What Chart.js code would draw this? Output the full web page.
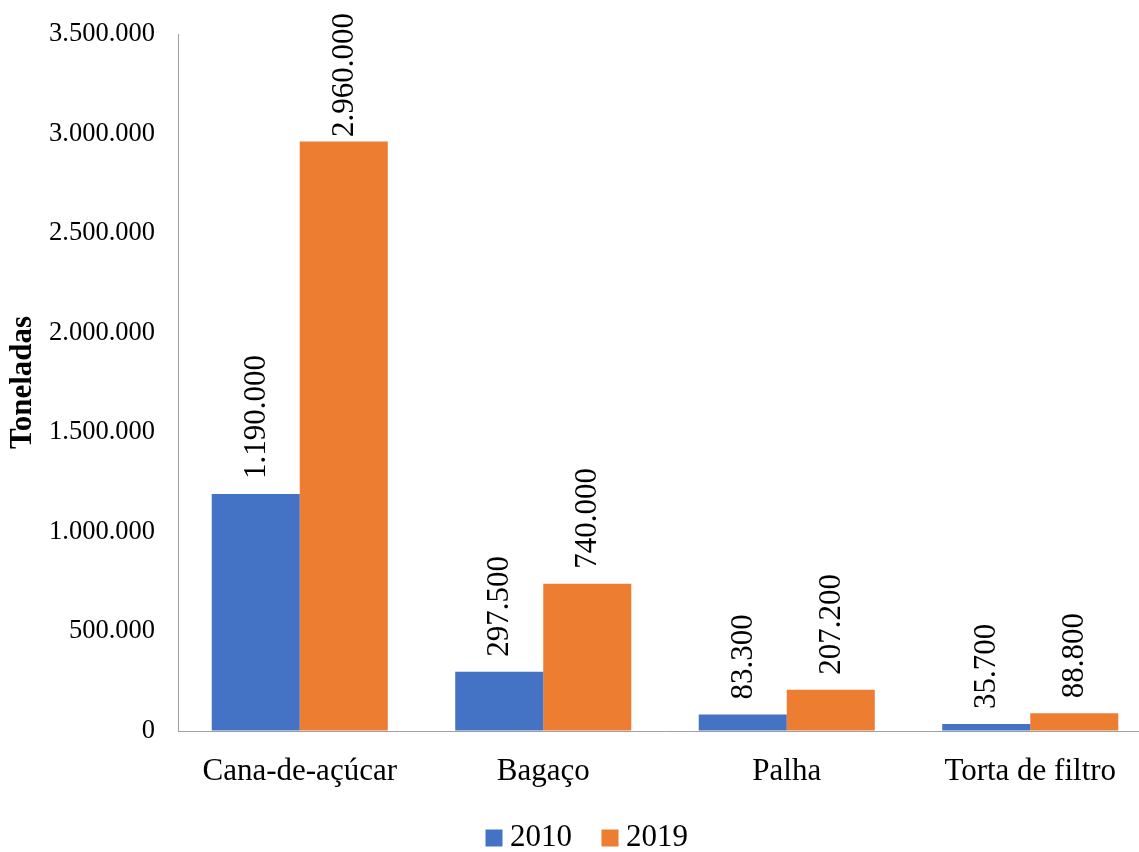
<!DOCTYPE html>
<html>
<head>
<meta charset="utf-8">
<script src="https://cdn.jsdelivr.net/npm/chart.js@4/dist/chart.umd.min.js"></script>
<style>
html,body{margin:0;padding:0;background:#fff;overflow:hidden}
#wrap{width:1152px;height:852px;position:relative}
</style>
</head>
<body>
<div id="wrap"><canvas id="c"></canvas></div>
<script>
const categories = ['Cana-de-açúcar', 'Bagaço', 'Palha', 'Torta de filtro'];
const seriesNames = ['2010', '2019'];
const values2010 = [1190000, 297500, 83300, 35700];
const values2019 = [2960000, 740000, 207200, 88800];
const yMin = 0;
const yMax = 3500000;
const yStep = 500000;
const yTitle = 'Toneladas';

const fmt = v => String(Math.round(v)).replace(/\B(?=(\d{3})+(?!\d))/g, '.');
const SERIF = '"Liberation Serif", "Times New Roman", serif';

const dataLabels = {
  id: 'dataLabels',
  afterDatasetsDraw(chart) {
    const ctx = chart.ctx;
    ctx.save();
    ctx.font = '31px ' + SERIF;
    ctx.fillStyle = '#000';
    ctx.textAlign = 'left';
    ctx.textBaseline = 'middle';
    chart.data.datasets.forEach((ds, di) => {
      const meta = chart.getDatasetMeta(di);
      meta.data.forEach((el, i) => {
        const txt = fmt(ds.data[i]);
        const w = ctx.measureText(txt).width;
        let start = el.y - 15;
        const minTop = 13;
        if (start - w < minTop) start = minTop + w;
        ctx.save();
        ctx.translate(el.x + 1, start);
        ctx.rotate(-Math.PI / 2);
        ctx.fillText(txt, 0, 0);
        ctx.restore();
      });
    });
    ctx.restore();
  }
};

const legendShift = {
  id: 'legendShift',
  afterLayout(chart) {
    const l = chart.legend;
    if (!l) return;
    l.left += 29.5;
    l.top -= 11;
    l.bottom -= 11;
  }
};

new Chart(document.getElementById('c'), {
  type: 'bar',
  data: {
    labels: categories,
    datasets: [
      { label: seriesNames[0], data: values2010, backgroundColor: '#4472C4', borderWidth: 0 },
      { label: seriesNames[1], data: values2019, backgroundColor: '#ED7D31', borderWidth: 0 }
    ]
  },
  options: {
    responsive: true,
    maintainAspectRatio: false,
    animation: false,
    layout: { padding: { top: 34, left: 0, right: 0, bottom: -22.5 } },
    datasets: { bar: { categoryPercentage: 0.723, barPercentage: 1.0 } },
    plugins: {
      tooltip: { enabled: false },
      legend: {
        position: 'bottom',
        labels: {
          usePointStyle: true,
          pointStyle: 'rect',
          boxWidth: 1,
          boxHeight: 17,
          padding: 37.5,
          color: '#000',
          font: { family: SERIF, size: 31 }
        }
      }
    },
    scales: {
      x: {
        grid: { display: true, drawOnChartArea: false, drawTicks: false },
        border: { display: true, color: '#a0a0a0', width: 1 },
        ticks: { color: '#000', padding: 22, font: { family: SERIF, size: 31 } },
        afterFit: s => { s.height = 65; s.paddingTop = 0; s.paddingBottom = 0; }
      },
      y: {
        min: yMin,
        max: yMax,
        grid: { display: true, drawOnChartArea: false, drawTicks: false },
        border: { display: true, color: '#a0a0a0', width: 1 },
        ticks: {
          stepSize: yStep,
          color: '#000',
          padding: 23,
          font: { family: SERIF, size: 26.5 },
          callback: v => fmt(v)
        },
        title: {
          display: true,
          text: yTitle,
          color: '#000',
          padding: { top: 4, bottom: 0 },
          font: { family: SERIF, size: 31, weight: 'bold' }
        },
        afterFit: s => { s.width = 178; s.paddingTop = 0; s.paddingBottom = 0; }
      }
    }
  },
  plugins: [dataLabels, legendShift]
});
</script>
</body>
</html>
